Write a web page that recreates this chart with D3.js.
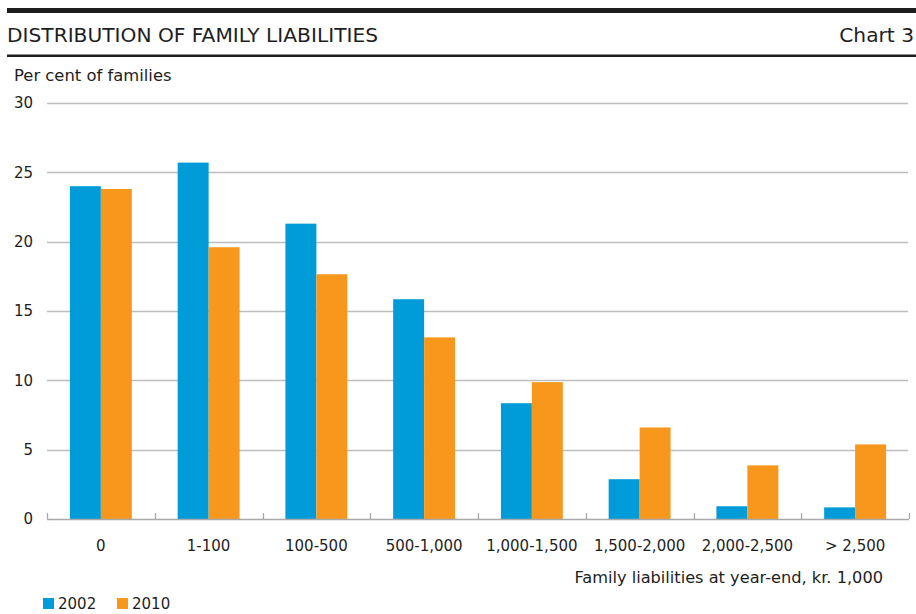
<!DOCTYPE html>
<html>
<head>
<meta charset="utf-8">
<script src="https://cdn.jsdelivr.net/npm/d3@7"></script>
<style>
  html, body { margin: 0; padding: 0; background: #fff; }
  text { font-family: "DejaVu Sans", "Open Sans", sans-serif; fill: #1e1e1e; }
</style>
</head>
<body>
<svg id="chart" width="916" height="614"></svg>
<script>
const categories = ["0", "1-100", "100-500", "500-1,000", "1,000-1,500", "1,500-2,000", "2,000-2,500", "> 2,500"];
const seriesNames = ["2002", "2010"];
const values2002 = [24.0, 25.7, 21.3, 15.85, 8.35, 2.87, 0.92, 0.84];
const values2010 = [23.8, 19.6, 17.65, 13.1, 9.87, 6.6, 3.87, 5.38];
const yTicks = [0, 5, 10, 15, 20, 25, 30];
const colors = ["#009bd9", "#f7981d"];

(function () {
const svg = d3.select("#chart");

// Header rules and title
svg.append("rect").attr("x", 7).attr("y", 8).attr("width", 909).attr("height", 5).attr("fill", "#1e1e1e");
svg.append("rect").attr("x", 7).attr("y", 54.5).attr("width", 909).attr("height", 2.5).attr("fill", "#1e1e1e");
svg.append("text").attr("x", 7).attr("y", 42).attr("font-size", 20.2).text("DISTRIBUTION OF FAMILY LIABILITIES");
svg.append("text").attr("x", 914).attr("y", 42).attr("font-size", 20.2).attr("text-anchor", "end").text("Chart 3");
svg.append("text").attr("x", 14).attr("y", 81).attr("font-size", 16.4).text("Per cent of families");

const pLeft = 47, pRight = 909, pTop = 103, pBottom = 519;
const y = d3.scaleLinear().domain([0, 30]).range([pBottom, pTop]);
const x0 = d3.scaleBand().domain(categories).range([pLeft, pRight]).padding(0);
const x1 = d3.scaleBand().domain(seriesNames).range([0, x0.bandwidth()]).paddingInner(0).paddingOuter(0.74);

// gridlines
svg.append("g").selectAll("line").data(yTicks.filter(t => t > 0)).join("line")
  .attr("x1", pLeft).attr("x2", pRight - 1)
  .attr("y1", d => Math.round(y(d)) + 0.5).attr("y2", d => Math.round(y(d)) + 0.5)
  .attr("stroke", "#bdbdbd").attr("stroke-width", 1.3);

// y tick labels
svg.append("g").selectAll("text").data(yTicks).join("text")
  .attr("x", 33).attr("y", d => y(d)).attr("dy", "0.36em")
  .attr("text-anchor", "end").attr("font-size", 15).text(d => d);

// bars
const data = categories.map((c, i) => ({ cat: c, vals: [values2002[i], values2010[i]] }));
const groups = svg.append("g").selectAll("g").data(data).join("g")
  .attr("transform", d => `translate(${x0(d.cat)},0)`);
groups.selectAll("rect").data(d => d.vals.map((v, j) => ({ s: seriesNames[j], v, j }))).join("rect")
  .attr("x", d => x1(d.s)).attr("width", x1.bandwidth())
  .attr("y", d => y(d.v)).attr("height", d => y(0) - y(d.v))
  .attr("fill", d => colors[d.j]);

// x axis
const xAxis = svg.append("g");
xAxis.append("line").attr("x1", pLeft).attr("x2", pRight).attr("y1", pBottom + 0.5).attr("y2", pBottom + 0.5)
  .attr("stroke", "#a8a8a8").attr("stroke-width", 1.5);
const boundaries = categories.map(c => x0(c)).concat([pRight]);
xAxis.selectAll("line.tick").data(boundaries).join("line").attr("class", "tick")
  .attr("x1", d => Math.round(d) + 0.5).attr("x2", d => Math.round(d) + 0.5)
  .attr("y1", pBottom - 6).attr("y2", pBottom)
  .attr("stroke", "#a8a8a8").attr("stroke-width", 1.3);
xAxis.selectAll("text").data(categories).join("text")
  .attr("x", d => x0(d) + x0.bandwidth() / 2).attr("y", 551)
  .attr("text-anchor", "middle").attr("font-size", 15).text(d => d);

svg.append("text").attr("x", 883).attr("y", 583).attr("text-anchor", "end").attr("font-size", 16.2)
  .text("Family liabilities at year-end, kr. 1,000");

// legend
const legendX = [43, 117];
const leg = svg.append("g").selectAll("g").data(seriesNames).join("g")
  .attr("transform", (d, i) => `translate(${legendX[i]},598)`);
leg.append("rect").attr("width", 11).attr("height", 11).attr("fill", (d, i) => colors[i]);
leg.append("text").attr("x", 15).attr("y", 11).attr("font-size", 15).text(d => d);
})();
</script>
</body>
</html>
